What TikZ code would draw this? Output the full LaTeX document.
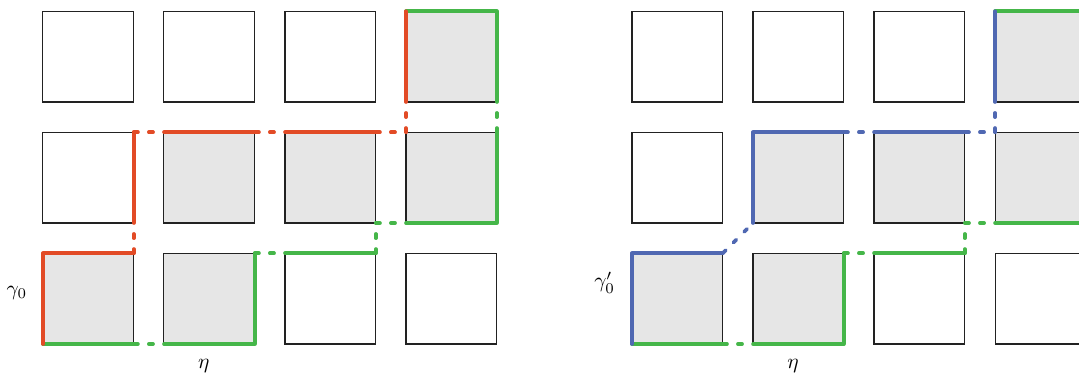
\documentclass[tikz,border=0pt]{standalone}
\usepackage{amsmath,amssymb}
\usepackage{tikz}
\definecolor{cellgrey}{HTML}{E6E6E6}
\definecolor{edgeink}{HTML}{222222}
\definecolor{pathred}{HTML}{E24B26}
\definecolor{pathgreen}{HTML}{45B649}
\definecolor{pathblue}{HTML}{5068B2}
\tikzset{
  cell/.style    = {draw=edgeink, line width=0.5pt, fill=white, minimum size=1.5cm,
                    inner sep=0pt, outer sep=0pt, anchor=south west},
  greycell/.style= {cell, fill=cellgrey},
  trail/.style   = {line width=1.7pt, line cap=round, line join=round},
  gapdash/.style = {trail, dash pattern=on 2pt off 5.1pt on 2pt off 5.13pt},
  lbl/.style     = {inner sep=0pt},
}
\begin{document}
\begin{tikzpicture}[x=2cm,y=2cm]
    \clip (-0.355,-0.264) rectangle (8.562,2.843);
    % both grids: white cells, then the grey ones
    \foreach \p/\dx in {a/0,b/4.868} {
      \foreach \i/\j in {0/1,0/2,1/2,2/2,2/0,3/0}
        \node[cell] (\p\i\j) at (\i+\dx,\j) {};
      \foreach \i/\j in {0/0,1/0,1/1,2/1,3/1,3/2}
        \node[greycell] (\p\i\j) at (\i+\dx,\j) {};
    }
    % green boundary, same in both grids
    \foreach \p in {a,b} {
      \draw[trail,pathgreen] (\p00.south west) -- (\p00.south east);
      \draw[gapdash,pathgreen] (\p00.south east) -- (\p10.south west);
      \draw[trail,pathgreen] (\p10.south west) -- (\p10.south east) -- (\p10.north east);
      \draw[gapdash,pathgreen] (\p10.north east) -- (\p20.north west);
      \draw[trail,pathgreen] (\p20.north west) -- (\p20.north east);
      \draw[gapdash,pathgreen] (\p20.north east) -- (\p21.south east) -- (\p31.south west);
      \draw[trail,pathgreen] (\p31.south west) -- (\p31.south east) -- (\p31.north east);
      \draw[gapdash,pathgreen] (\p31.north east) -- (\p32.south east);
      \draw[trail,pathgreen] (\p32.south east) -- (\p32.north east) -- (\p32.north west);
    }
    % red path, left grid
    \draw[trail,pathred] (a00.south west) -- (a00.north west) -- (a00.north east);
    \draw[gapdash,pathred] (a00.north east) -- (a01.south east);
    \draw[trail,pathred] (a01.south east) -- (a01.north east);
    \draw[gapdash,pathred] (a01.north east) -- (a11.north west);
    \draw[trail,pathred] (a11.north west) -- (a11.north east);
    \draw[gapdash,pathred] (a11.north east) -- (a21.north west);
    \draw[trail,pathred] (a21.north west) -- (a21.north east);
    \draw[gapdash,pathred] (a21.north east) -- (a31.north west) -- (a32.south west);
    \draw[trail,pathred] (a32.south west) -- (a32.north west);
    % blue path, right grid
    \draw[trail,pathblue] (b00.south west) -- (b00.north west) -- (b00.north east);
    \draw[gapdash,pathblue] (b00.north east) -- (b11.south west);
    \draw[trail,pathblue] (b11.south west) -- (b11.north west) -- (b11.north east);
    \draw[gapdash,pathblue] (b11.north east) -- (b21.north west);
    \draw[trail,pathblue] (b21.north west) -- (b21.north east);
    \draw[gapdash,pathblue] (b21.north east) -- (b31.north west) -- (b32.south west);
    \draw[trail,pathblue] (b32.south west) -- (b32.north west);
    % labels
    \node[lbl] (ga) at (-0.215,0.421) {$\gamma_0$};
    \node[lbl] (ea) at (1.33,-0.178) {$\eta$};
    \node[lbl] (gb) at (4.641,0.508) {$\gamma'_0$};
    \node[lbl] (eb) at (6.198,-0.178) {$\eta$};
  \end{tikzpicture}
\end{document}
